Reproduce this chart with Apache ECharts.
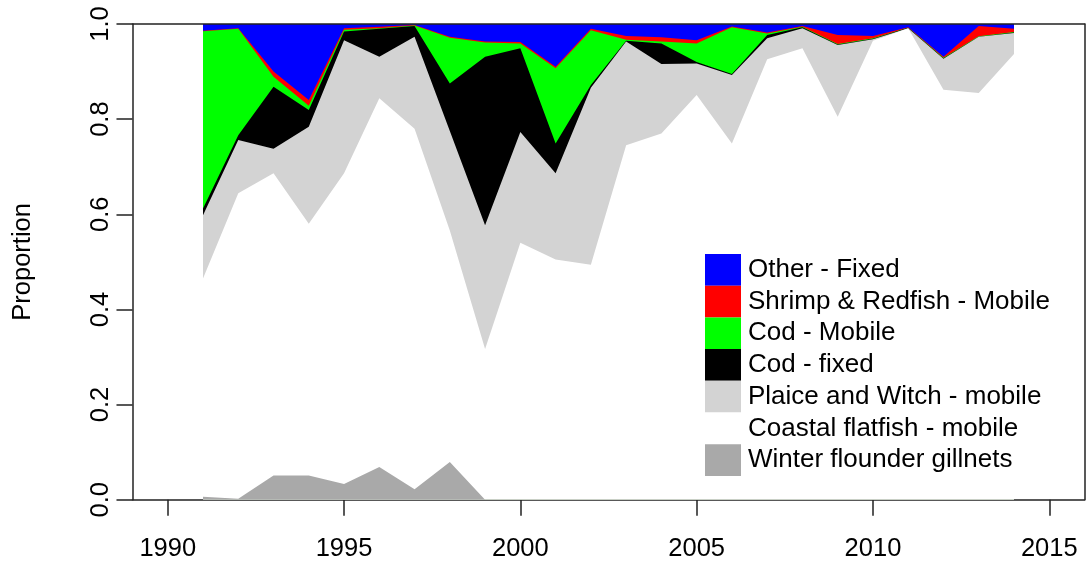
<!DOCTYPE html>
<html>
<head>
<meta charset="utf-8">
<script src="https://cdn.jsdelivr.net/npm/echarts@6/dist/echarts.min.js"></script>
<style>
html,body{margin:0;padding:0;background:#fff;}
#chart{width:1086px;height:567px;}
</style>
</head>
<body>
<div id="chart"></div>
<script>
const years = [1991,1992,1993,1994,1995,1996,1997,1998,1999,2000,2001,2002,2003,2004,2005,2006,2007,2008,2009,2010,2011,2012,2013,2014];
const xTicks = [1990,1995,2000,2005,2010,2015];
const yTicks = [0,0.2,0.4,0.6,0.8,1.0];

// Proportions of each fleet per year (stacked bottom to top)
const winterFlounder = [0.006,0.002,0.051,0.051,0.033,0.069,0.022,0.079,0,0,0,0,0,0,0,0,0,0,0,0,0,0,0,0];
const coastalFlatfish = [0.459,0.642,0.635,0.529,0.653,0.775,0.758,0.487,0.317,0.540,0.505,0.494,0.745,0.770,0.851,0.749,0.926,0.949,0.805,0.965,0.991,0.862,0.855,0.937];
const plaiceWitch = [0.133,0.112,0.052,0.204,0.280,0.087,0.193,0.209,0.260,0.233,0.181,0.372,0.218,0.146,0.066,0.144,0.044,0.042,0.151,0.003,0.000,0.065,0.118,0.044];
const codFixed = [0.014,0.010,0.130,0.035,0.018,0.059,0.023,0.100,0.354,0.176,0.063,0.006,0.002,0.043,0.003,0.002,0.007,0.002,0.001,0.001,0.001,0.001,0.000,0.001];
const codMobile = [0.373,0.224,0.021,0.009,0.004,0.001,0.001,0.096,0.030,0.010,0.158,0.115,0.002,0.004,0.039,0.098,0.003,0.001,0.001,0.001,0.000,0.001,0.001,0.001];
const shrimpRedfish = [0.001,0.001,0.011,0.012,0.003,0.003,0.001,0.002,0.002,0.003,0.003,0.003,0.008,0.009,0.007,0.002,0.002,0.002,0.019,0.005,0.001,0.002,0.022,0.007];
const otherFixed = [0.014,0.009,0.100,0.160,0.009,0.006,0.002,0.027,0.037,0.038,0.090,0.010,0.025,0.028,0.034,0.005,0.018,0.004,0.023,0.025,0.007,0.069,0.004,0.010];

const layers = [
  {name:'Winter flounder gillnets', data:winterFlounder, color:'#A9A9A9'},
  {name:'Coastal flatfish - mobile', data:coastalFlatfish, color:'#FFFFFF'},
  {name:'Plaice and Witch - mobile', data:plaiceWitch, color:'#D3D3D3'},
  {name:'Cod - fixed', data:codFixed, color:'#000000'},
  {name:'Cod - Mobile', data:codMobile, color:'#00FF00'},
  {name:'Shrimp & Redfish - Mobile', data:shrimpRedfish, color:'#FF0000'},
  {name:'Other - Fixed', data:otherFixed, color:'#0000FF'}
];

// cumulative upper boundary of each layer (the stack), drawn top layer first
const cum = years.map(() => 0);
const stacked = layers.map(l => {
  const top = l.data.map((v,i) => { cum[i] += v; return cum[i]; });
  return {name:l.name, color:l.color, top: top.slice()};
});

const FONT = "'Liberation Sans', Arial, sans-serif";
const chart = echarts.init(document.getElementById('chart'), null, {renderer:'canvas'});

const series = stacked.slice().reverse().map(l => ({
  name: l.name,
  type: 'line',
  data: years.map((y,i) => [y, Math.min(1, l.top[i])]),
  showSymbol: false,
  symbol: 'none',
  color: l.color,
  itemStyle: {color: l.color},
  lineStyle: {width: 0, color: l.color},
  areaStyle: {color: l.color, opacity: 1, origin: 'start'},
  emphasis: {disabled: true},
  animation: false,
  z: 2
}));

chart.setOption({
  animation: false,
  backgroundColor: '#fff',
  textStyle: {fontFamily: FONT},
  grid: {left: 132.48, right: 1.48, top: 24, bottom: 67.3, containLabel: false},
  legend: {
    orient: 'vertical',
    left: 700,
    top: 249,
    itemWidth: 36,
    itemHeight: 31.7,
    itemGap: 0,
    icon: 'rect',
    selectedMode: false,
    data: ['Other - Fixed','Shrimp & Redfish - Mobile','Cod - Mobile','Cod - fixed','Plaice and Witch - mobile','Coastal flatfish - mobile','Winter flounder gillnets'],
    textStyle: {fontFamily: FONT, fontSize: 26, color: '#000', lineHeight: 18.7, padding: [13,0,0,2]}
  },
  xAxis: [{
    type: 'value',
    min: 1989,
    max: 2016,
    z: 0,
    splitLine: {show: false},
    axisLine: {show: true, onZero: false, lineStyle: {color: '#222', width: 1.5}},
    axisTick: {show: true, customValues: xTicks, length: 16, inside: false, lineStyle: {color: '#222', width: 1.5}},
    axisLabel: {customValues: xTicks, fontSize: 25.5, color: '#000', margin: 36, fontFamily: FONT, formatter: v => String(v)}
  },{
    type: 'value',
    position: 'top',
    min: 1989,
    max: 2016,
    z: 10,
    splitLine: {show: false},
    axisLine: {show: true, onZero: false, lineStyle: {color: '#222', width: 1.5}},
    axisTick: {show: false},
    axisLabel: {show: false}
  }],
  yAxis: [{
    type: 'value',
    min: 0,
    max: 1,
    interval: 0.2,
    z: 0,
    name: 'Proportion',
    nameLocation: 'middle',
    nameRotate: 90,
    nameGap: 97,
    nameTextStyle: {fontSize: 25.5, color: '#000', fontFamily: FONT},
    splitLine: {show: false},
    axisLine: {show: true, onZero: false, lineStyle: {color: '#222', width: 1.5}},
    axisTick: {show: true, length: 16, lineStyle: {color: '#222', width: 1.5}},
    axisLabel: {rotate: 90, fontSize: 25.5, color: '#000', margin: 19, fontFamily: FONT, formatter: v => v.toFixed(1)}
  },{
    type: 'value',
    position: 'right',
    min: 0,
    max: 1,
    interval: 0.2,
    z: 10,
    splitLine: {show: false},
    axisLine: {show: true, onZero: false, lineStyle: {color: '#222', width: 1.5}},
    axisTick: {show: false},
    axisLabel: {show: false}
  }],
  series: series
});
</script>
</body>
</html>
